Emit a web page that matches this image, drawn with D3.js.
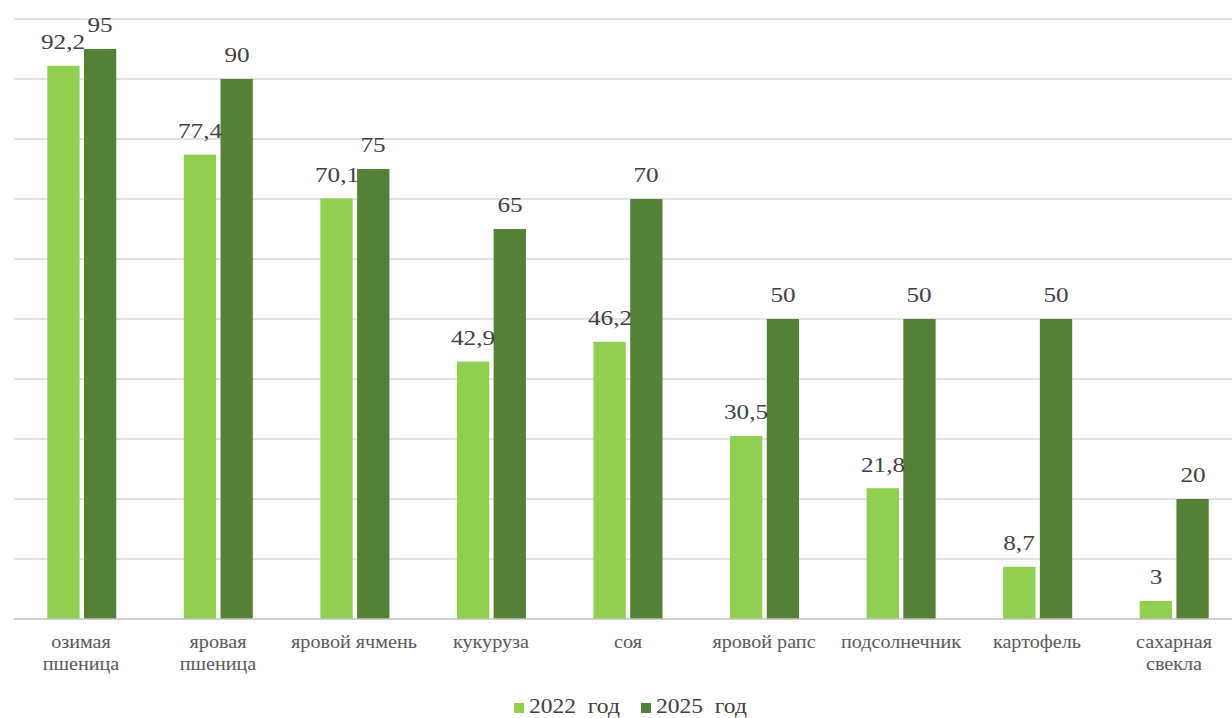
<!DOCTYPE html>
<html><head><meta charset="utf-8">
<script src="https://cdn.jsdelivr.net/npm/d3@7/dist/d3.min.js"></script>
<style>
body{margin:0;background:#fff;font-family:'Liberation Serif',serif;}
#wrap{position:relative;width:1232px;height:718px;overflow:hidden;}
svg{display:block;position:absolute;left:0;top:0;}
.t{position:absolute;white-space:nowrap;font-family:'Liberation Serif','Times New Roman',serif;line-height:1;}
</style>
</head><body>
<div id="wrap"><svg id="c" width="1232" height="718"></svg></div>
<script>
const categories = ["озимая\nпшеница","яровая\nпшеница","яровой ячмень","кукуруза","соя","яровой рапс","подсолнечник","картофель","сахарная\nсвекла"];
const values2022 = [92.2,77.4,70.1,42.9,46.2,30.5,21.8,8.7,3];
const values2025 = [95,90,75,65,70,50,50,50,20];
const seriesNames = ["2022 год","2025 год"];
const yTicks = [0,10,20,30,40,50,60,70,80,90,100];
const colors = ["#8fd14f","#538135"];

function draw(){
const svg = d3.select("#c");
const wrap = d3.select("#wrap");
const x = d3.scaleBand().domain(categories).range([13,1242]).paddingInner(0).paddingOuter(0);
const y = d3.scaleLinear().domain([0,100]).range([619,19]);
const x1 = d3.scaleBand().domain([0,1]).range([-34,35]).paddingInner(0.12);

function addText(str, tx, by, fs, color, sx, anchor){
  const asc = 0.8375*fs;
  const tr = anchor === "start" ? `scaleX(${sx})` : `translateX(-50%) scaleX(${sx})`;
  wrap.append("div").attr("class","t")
    .style("left", tx+"px").style("top",(by-asc)+"px")
    .style("font-size",fs+"px").style("color",color)
    .style("transform",tr).style("transform-origin", anchor === "start" ? "left center" : "center center")
    .text(str);
}

svg.append("g").selectAll("line").data(yTicks.slice(1)).join("line")
  .attr("x1",14).attr("x2",1232).attr("y1",d=>y(d)).attr("y2",d=>y(d))
  .attr("stroke","#d9d9d9").attr("stroke-width",1.3);

const series = [values2022, values2025];
const g = svg.append("g");
categories.forEach((c,i)=>{
  const cx = x(c) + x.bandwidth()/2;
  series.forEach((vals,s)=>{
    const v = vals[i];
    g.append("rect").attr("x",cx + x1(s)).attr("width",x1.bandwidth())
      .attr("y",y(v)).attr("height",y(0)-y(v)).attr("fill",colors[s]);
    addText(String(v).replace(".",","), cx + x1(s)+x1.bandwidth()/2, y(v)-16, 21, "#404040", 1.2, "middle");
  });
});

svg.append("line").attr("x1",14).attr("x2",1232).attr("y1",y(0)).attr("y2",y(0))
  .attr("stroke","#bfbfbf").attr("stroke-width",1.3);

categories.forEach(c=>{
  const cx = x(c)+x.bandwidth()/2;
  c.split("\n").forEach((line,k)=>{
    addText(line, cx, 648+k*22, 18, "#595959", 1.12, "middle");
  });
});

const legX = [514,641];
seriesNames.forEach((n,i)=>{
  svg.append("rect").attr("x",legX[i]).attr("y",703).attr("width",10).attr("height",10).attr("fill",colors[i]);
  addText(n.replace(" ","\u2002"), legX[i]+15, 714, 21, "#404040", 1.12, "start");
});
}
if (document.fonts && document.fonts.load) {
  let done = false;
  const go = () => { if (!done) { done = true; draw(); } };
  document.fonts.load("18px 'Liberation Serif'", "яровой 2022").then(go, go);
  setTimeout(go, 800);
} else draw();
</script>
</body></html>
